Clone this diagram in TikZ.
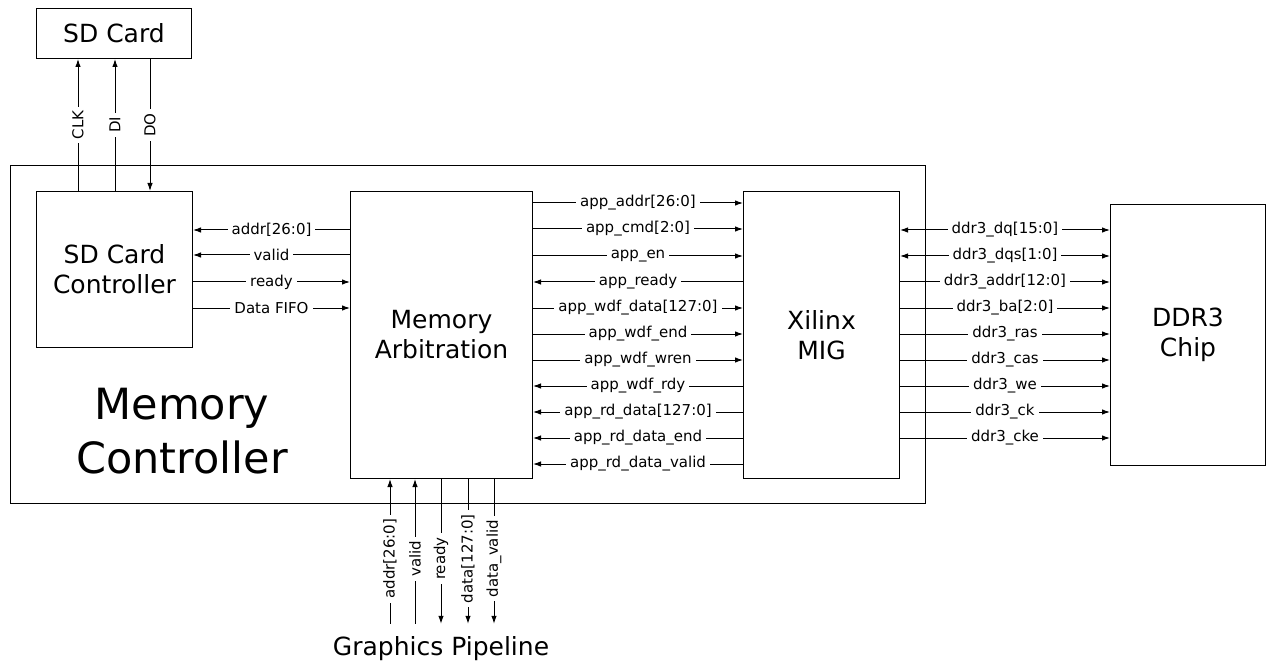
\documentclass[tikz,border=0pt]{standalone}
\usepackage{fontspec}
\setmainfont{DejaVu Sans}
\usetikzlibrary{arrows.meta}

\begin{document}
\begin{tikzpicture}[
        x=1pt, y=-1pt,
        blk/.style={draw=black, line width=1pt, anchor=north west, align=center, inner sep=0pt, font=\fontsize{25}{30}\selectfont},
        sig/.style={draw=black, line width=1pt},
        lbl/.style={fill=white, inner xsep=4pt, inner ysep=1pt, font=\fontsize{15}{18}\selectfont},
        fwd/.style={-{Latex[length=8pt,width=5.5pt]}},
        bwd/.style={{Latex[length=8pt,width=5.5pt]}-},
        both/.style={{Latex[length=8pt,width=5.5pt]}-{Latex[length=8pt,width=5.5pt]}}
    ]
    \useasboundingbox (0,0) rectangle (1267,663);

    \node[blk, minimum width=915pt, minimum height=338pt] (mc) at (10,165) {};
    \node[align=center, font=\fontsize{43}{54}\selectfont] (mclbl) at (182,431) {Memory\\Controller};

    \node[blk, minimum width=155pt, minimum height=50pt] (sd) at (36,8) {SD Card};
    \node[blk, minimum width=156pt, minimum height=156pt] (sdcc) at (36,191) {SD Card\\Controller};
    \node[blk, minimum width=182pt, minimum height=287pt] (ma) at (350,191) {Memory\\Arbitration};
    \node[blk, minimum width=156pt, minimum height=287pt] (mig) at (743,191) {Xilinx\\MIG};
    \node[blk, minimum width=155pt, minimum height=261pt] (ddr) at (1110,204) {DDR3\\Chip};
    \node[anchor=base, inner ysep=12pt, font=\fontsize{25}{30}\selectfont] (gp) at (441,655) {Graphics Pipeline};

    \foreach \x/\txt/\dir in {78/CLK/fwd, 115/DI/fwd, 150/DO/bwd}
        \draw[sig,\dir] (sdcc.north -| \x,0) -- node[lbl, rotate=90] {\txt} (sd.south -| \x,0);

    \foreach \y/\txt/\dir in {230/{addr[26:0]}/bwd, 255/valid/bwd, 282/ready/fwd, 308/Data FIFO/fwd}
        \draw[sig,\dir] (sdcc.east |- 0,\y) -- node[lbl] {\txt} (ma.west |- 0,\y);

    \foreach \y/\txt/\dir in {203/{app\_addr[26:0]}/fwd, 229/{app\_cmd[2:0]}/fwd, 256/app\_en/fwd,
            282/app\_ready/bwd, 308/{app\_wdf\_data[127:0]}/fwd, 334/app\_wdf\_end/fwd,
            360/app\_wdf\_wren/fwd, 386/app\_wdf\_rdy/bwd, 412/{app\_rd\_data[127:0]}/bwd,
            438/app\_rd\_data\_end/bwd, 464/app\_rd\_data\_valid/bwd}
        \draw[sig,\dir] (ma.east |- 0,\y) -- node[lbl] {\txt} (mig.west |- 0,\y);

    \foreach \y/\txt/\dir in {230/{ddr3\_dq[15:0]}/both, 256/{ddr3\_dqs[1:0]}/both,
            282/{ddr3\_addr[12:0]}/fwd, 308/{ddr3\_ba[2:0]}/fwd, 334/ddr3\_ras/fwd,
            360/ddr3\_cas/fwd, 386/ddr3\_we/fwd, 412/ddr3\_ck/fwd, 438/ddr3\_cke/fwd}
        \draw[sig,\dir] (mig.east |- 0,\y) -- node[lbl] {\txt} (ddr.west |- 0,\y);

    \foreach \x/\txt/\dir in {390/{addr[26:0]}/bwd, 415/valid/bwd, 441/ready/fwd,
            468/{data[127:0]}/fwd, 494/data\_valid/fwd}
        \draw[sig,\dir] (ma.south -| \x,0) -- node[lbl, rotate=90, pos=0.55] {\txt} (gp.north -| \x,0);
\end{tikzpicture}
\end{document}
